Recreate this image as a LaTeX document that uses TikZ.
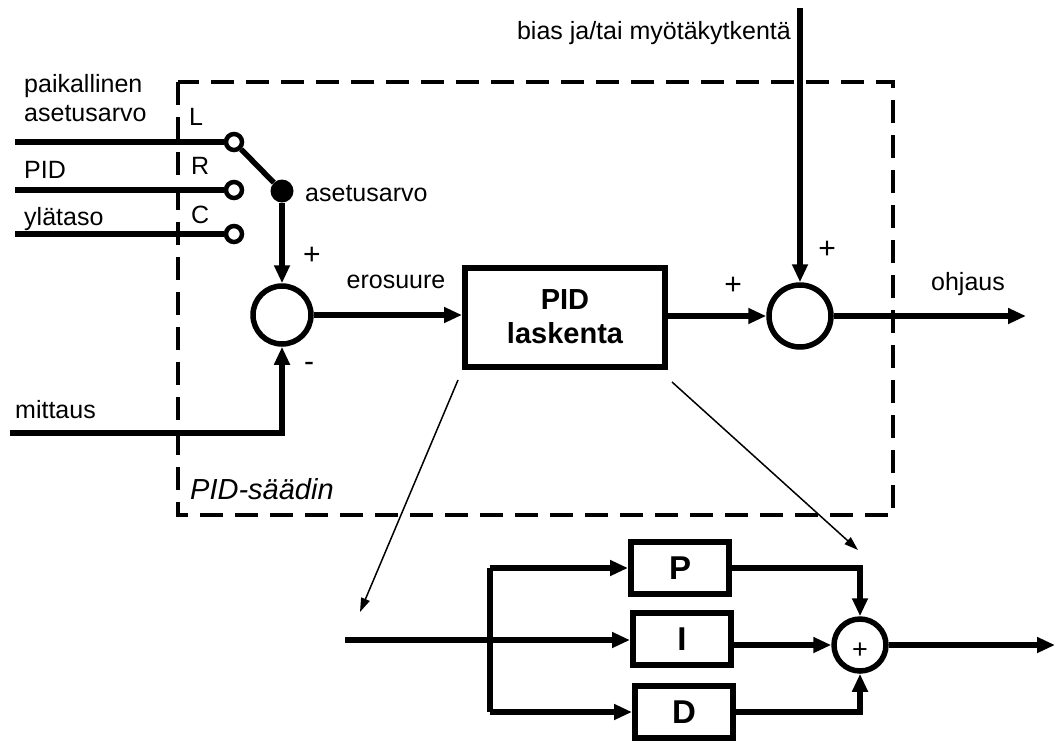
\documentclass[tikz,border=0pt]{standalone}
\usepackage{fontspec}
\setmainfont{Liberation Sans}
\usetikzlibrary{arrows.meta}
\begin{document}
\begin{tikzpicture}[x=1pt,y=-1pt,
  wire/.style={line width=5.5pt},
  flow/.style={wire,-{Triangle[length=18pt,width=15pt]}},
  zoomline/.style={line width=1.5pt,-{Triangle[length=14pt,width=9pt]}},
  frame/.style={line width=3.4pt,dash pattern=on 23pt off 12pt},
  block/.style={draw,line width=6pt,inner sep=0},
  sumnode/.style={circle,draw,line width=5.5pt,inner sep=0},
  terminal/.style={circle,draw,line width=4.5pt,fill=white,minimum size=16pt,inner sep=0},
  lbl/.style={font=\fontsize{25}{29}\selectfont,inner sep=0},
  sign/.style={font=\fontsize{30}{32}\selectfont,inner sep=0}
]
\useasboundingbox (0,0) rectangle (1056,742);

% controller frame
\draw[frame] (178,82) rectangle (893,515);
\node[lbl,anchor=west,font=\fontsize{29}{34}\selectfont\itshape] (frameLbl) at (190,489) {PID-säädin};

% setpoint selector
\coordinate (inL) at (15,142);
\coordinate (inR) at (15,190);
\coordinate (inC) at (15,234);
\node[terminal] (tL) at (234,142) {};
\node[terminal] (tR) at (234,190) {};
\node[terminal] (tC) at (234,234) {};
\node[circle,fill,minimum size=23pt,inner sep=0] (dot) at (282,191) {};
\draw[wire] (inL) -- (tL);
\draw[wire] (inR) -- (tR);
\draw[wire] (inC) -- (tC);
\draw[wire] (tL) -- (dot);

\node[lbl,anchor=west] (lPaik) at (24,86) {paikallinen};
\node[lbl,anchor=west] (lAset) at (24,114) {asetusarvo};
\node[lbl,anchor=west] (lPID) at (24,170) {PID};
\node[lbl,anchor=west] (lYla) at (24,219) {ylätaso};
\node[lbl,anchor=west] (kL) at (189,117) {L};
\node[lbl,anchor=west] (kR) at (191,166) {R};
\node[lbl,anchor=west] (kC) at (191,215) {C};
\node[lbl,anchor=west] (lSet) at (305,194) {asetusarvo};

% error summation
\node[sumnode,minimum size=58pt] (sum1) at (282,315) {};
\draw[flow] (dot) -- (sum1);
\coordinate (inM) at (10,433);
\draw[flow] (inM) -| (sum1);
\node[lbl,anchor=west] (lMit) at (15,410) {mittaus};
\node[sign] (p1) at (312,256) {+};
\node[sign] (m1) at (309,367) {-};

% PID block
\node[block,minimum width=200pt,minimum height=99pt,align=center,
      font=\fontsize{29}{34}\selectfont\bfseries] (pid) at (565,317) {PID\\laskenta};
\draw[flow] (sum1) -- (pid.west |- sum1);
\node[lbl] (lEro) at (396,282) {erosuure};

% output summation
\node[sumnode,minimum size=62pt] (sum2) at (800,316) {};
\draw[flow] (pid.east |- sum2) -- (sum2);
\coordinate (biasTop) at (800,8);
\draw[flow] (biasTop) -- (sum2);
\node[lbl,anchor=east] (lBias) at (791,33) {bias ja/tai myötäkytkentä};
\node[sign] (p2) at (733,286) {+};
\node[sign] (p3) at (827,250) {+};
\coordinate (outU) at (1026,316);
\draw[flow] (sum2) -- (outU);
\node[lbl] (lOhj) at (968,284) {ohjaus};

% expanded view of the PID block
\coordinate (zA) at (458,380);
\coordinate (zB) at (360,612);
\coordinate (zC) at (672,382);
\coordinate (zD) at (858,550);
\draw[zoomline] (zA) -- (zB);
\draw[zoomline] (zC) -- (zD);

\tikzset{term/.style={block,minimum width=98pt,minimum height=52pt,font=\fontsize{33}{38}\selectfont\bfseries}}
\node[term] (P) at (680,568) {P};
\node[term] (I) at (682,639) {I};
\node[term] (D) at (684,712) {D};
\node[sumnode,minimum size=52pt] (sum3) at (860,645) {};
\node[font=\fontsize{27}{29}\selectfont,inner sep=0] (sum3Lbl) at (860,651) {+};

\coordinate (in3) at (345,640);
\coordinate (br) at (490,640);
\draw[wire] (in3) -- (br);
\draw[flow] (br) -- (I.west |- br);
\draw[flow] (br |- P) -- (P.west);
\draw[flow] (br |- D) -- (D.west);
\draw[wire] (br |- P) -- (br |- D);
\draw[flow] (P.east) -| (sum3.north);
\draw[flow] (I.east |- sum3) -- (sum3.west);
\draw[flow] (D.east) -| (sum3.south);
\coordinate (out3) at (1055,645);
\draw[flow] (sum3) -- (out3);
\end{tikzpicture}
\end{document}
